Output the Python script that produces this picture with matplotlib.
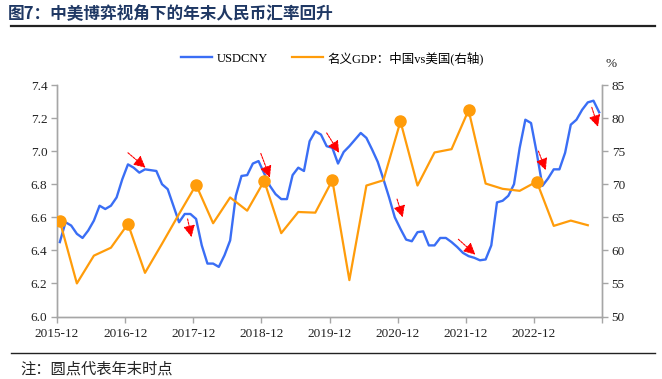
import matplotlib
matplotlib.use("Agg")
import matplotlib.pyplot as plt
import numpy as np

# ---------------- data ----------------
usdcny = [
    6.45,
    6.57, 6.55, 6.50, 6.475, 6.52, 6.58, 6.67, 6.65, 6.67, 6.72, 6.83, 6.92,
    6.90, 6.87, 6.89, 6.885, 6.88, 6.80, 6.77, 6.67, 6.57, 6.62, 6.62, 6.59,
    6.43, 6.32, 6.32, 6.30, 6.37, 6.46, 6.73, 6.85, 6.855, 6.925, 6.94, 6.865,
    6.79, 6.74, 6.71, 6.71, 6.855, 6.90, 6.88, 7.06, 7.12, 7.10, 7.03, 7.02,
    6.925, 6.995, 7.03, 7.07, 7.11, 7.08, 7.01, 6.935, 6.83, 6.72, 6.60, 6.53,
    6.465, 6.455, 6.51, 6.515, 6.43, 6.43, 6.475, 6.475, 6.45, 6.42, 6.385, 6.365,
    6.355, 6.34, 6.345, 6.43, 6.69, 6.70, 6.73, 6.80, 7.02, 7.19, 7.17, 6.99,
    6.79, 6.835, 6.89, 6.89, 6.99, 7.16, 7.19, 7.25, 7.295, 7.305, 7.235,
]
# quarterly nominal GDP ratio China/US (%), 2015Q4 .. 2023Q3
gdp_ratio = [
    64.4,
    55.0, 59.2, 60.4, 64.0,
    56.6, 61.0, 65.5, 69.9,
    64.1, 68.0, 66.0, 70.5,
    62.6, 65.8, 65.7, 70.6,
    55.5, 69.8, 70.6, 79.5,
    69.8, 74.8, 75.3, 81.2,
    70.1, 69.3, 69.0, 70.4,
    63.7, 64.5, 63.8,
]
tick_labels = ["2015-12", "2016-12", "2017-12", "2018-12", "2019-12",
               "2020-12", "2021-12", "2022-12"]
# red arrows: (start month idx, start value, end month idx, end value) on left axis
arrows = [
    (12.0, 6.99, 15.1, 6.90),
    (22.5, 6.59, 23.2, 6.48),
    (35.4, 6.986, 37.0, 6.84),
    (47.0, 7.11, 49.2, 6.99),
    (59.4, 6.71, 60.4, 6.60),
    (70.2, 6.467, 73.2, 6.374),
    (84.3, 7.00, 85.6, 6.885),
    (93.7, 7.265, 94.8, 7.147),
]

# ---------------- figure ----------------
W, H = 662, 379
fig = plt.figure(figsize=(W / 100, H / 100), dpi=100)
latin_cjk = ["Liberation Serif", "Noto Sans CJK SC"]
plt.rcParams["font.family"] = latin_cjk

ax = fig.add_axes([57 / W, 1 - 316.5 / H, (602 - 57) / W, (316.5 - 85) / H])
ax2 = ax.twinx()

blue = "#3A6EF5"
orange = "#FF9C0A"
axis_gray = "#A6A6A6"

x_m = np.arange(len(usdcny))
ln1, = ax.plot(x_m, usdcny, color=blue, lw=1.7, zorder=3, label="USDCNY")

x_q = np.arange(len(gdp_ratio)) * 3
ln2, = ax2.plot(x_q, gdp_ratio, color=orange, lw=1.6, zorder=3,
                label="名义GDP：中国vs美国(右轴)")
ye_idx = [i for i in range(len(gdp_ratio)) if (i * 3) % 12 == 0]
ax2.plot(x_q[ye_idx], np.array(gdp_ratio)[ye_idx], "o", color=orange,
         ms=8, zorder=4)

ax.set_xlim(-0.5, 95.5)
ax.set_ylim(6.0, 7.4)
ax2.set_ylim(50, 85)
ax.set_yticks(np.arange(6.0, 7.41, 0.2))
ax.set_yticklabels([f"{v:.1f}" for v in np.arange(6.0, 7.41, 0.2)])
ax2.set_yticks(np.arange(50, 86, 5))
ax.set_xticks(np.arange(0, 97, 12) - 0.5)
ax.set_xticklabels(tick_labels + [""])

for a in (ax, ax2):
    for s in a.spines.values():
        s.set_color(axis_gray)
        s.set_linewidth(1.0)
    a.spines["top"].set_visible(False)
    a.tick_params(colors=axis_gray, labelcolor="#222222", labelsize=9.5,
                  length=4, width=1.0, direction="out")
ax.tick_params(axis="x", pad=4)
ax.tick_params(axis="y", pad=3)
ax2.tick_params(axis="y", pad=3)

# arrows
for x0, y0, x1, y1 in arrows:
    ax.annotate("", xy=(x1, y1), xytext=(x0, y0),
                arrowprops=dict(arrowstyle="-|>,head_length=0.7,head_width=0.35",
                                color="#FF0000", lw=0.8, linestyle=(0, (2, 1)),
                                shrinkA=0, shrinkB=0),
                zorder=5)

# legend
fig.legend([ln1, ln2], ["USDCNY", "名义GDP：中国vs美国(右轴)"],
           loc="center left", bbox_to_anchor=(181 / W, 1 - 58 / H),
           ncol=2, frameon=False, handlelength=2.5, borderpad=0,
           borderaxespad=0, handletextpad=0.35, columnspacing=1.9,
           prop={"family": latin_cjk, "size": 9})

# % label
fig.text(605 / W, 1 - 64 / H, "%", fontsize=9.5, ha="left", va="center",
         color="#222222")

# title
fig.text(8 / W, 1 - 13 / H, "图7：中美博弈视角下的年末人民币汇率回升",
         fontsize=12, fontweight="bold", color="#1F3864",
         family=["Noto Sans CJK SC", "DejaVu Sans"], ha="left", va="center")
fig.add_artist(plt.Line2D([11 / W, 655 / W], [1 - 25.5 / H, 1 - 25.5 / H],
                          color="#222222", lw=1.6))
fig.add_artist(plt.Line2D([11 / W, 655 / W], [1 - 353 / H, 1 - 353 / H],
                          color="#222222", lw=1.0))
fig.text(20 / W, 1 - 369 / H, "注：圆点代表年末时点", fontsize=11,
         color="#222222", family=["Noto Sans CJK SC", "DejaVu Sans"],
         ha="left", va="center")

fig.savefig("out.png", dpi=100)
